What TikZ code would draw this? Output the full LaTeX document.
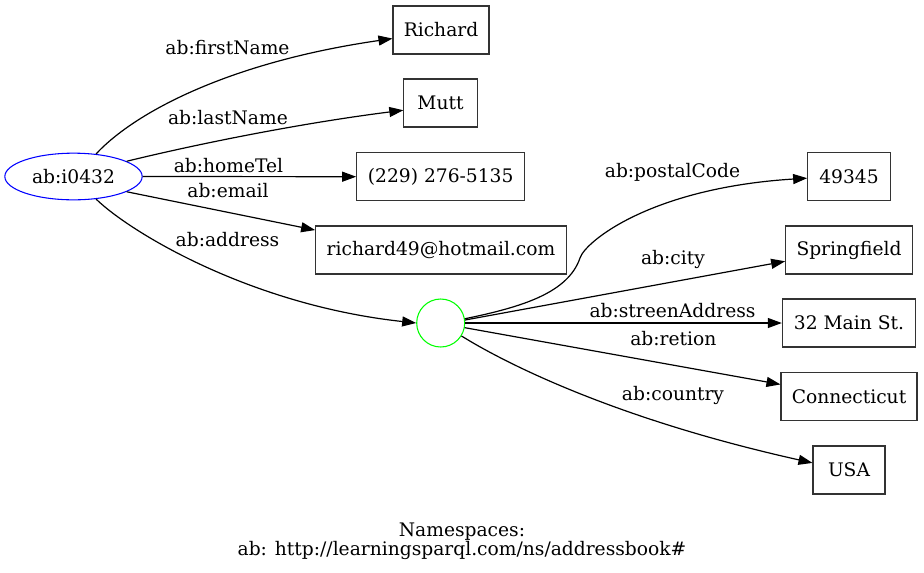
\documentclass[tikz,border=0pt]{standalone}
\usepackage{fontspec}
\setmainfont{DejaVu Serif}
\usetikzlibrary{arrows.meta,shapes.geometric}

\tikzstyle{line} = [draw, line width=0.9pt, -{Triangle[length=10.5pt,width=7.5pt]}]
\tikzstyle{lit} = [draw=black!80, rectangle, line width=0.8pt, minimum height=36pt, inner sep=0pt, font=\fontsize{14}{17}\selectfont]
\tikzstyle{subj} = [draw=blue, ellipse, line width=0.8pt, minimum width=103pt, minimum height=35pt, inner sep=0pt, font=\fontsize{14}{17}\selectfont]
\tikzstyle{bnode} = [draw=green, circle, line width=0.8pt, minimum size=36pt, inner sep=0pt]
\tikzstyle{lbl} = [anchor=base, inner sep=0pt, font=\fontsize{14}{17}\selectfont]

\begin{document}
\begin{tikzpicture}[x=0.75pt,y=-0.75pt]
\useasboundingbox (0,0) rectangle (924,572);

%resource
\node[subj] (i0432) at (73.5,176.5) {ab:i0432};

%literals
\node[lit, minimum width=72pt] (richard) at (441,30) {Richard};%
\node[lit, minimum width=55pt] (mutt) at (440.5,103) {Mutt};%
\node[lit, minimum width=126pt] (tel) at (440.7,176.7) {(229) 276-5135};%
\node[lit, minimum width=188pt] (email) at (441,250) {richard49@hotmail.com};%

%address
\node[bnode] (addr) at (440.7,323) {};
\node[lit, minimum width=62pt] (postal) at (849,176.7) {49345};%
\node[lit, minimum width=95pt] (city) at (849,250) {Springfield};%
\node[lit, minimum width=100pt] (street) at (849,323) {32 Main St.};%
\node[lit, minimum width=102pt] (region) at (849,396.5) {Connecticut};%
\node[lit, minimum width=54pt] (country) at (849,470) {USA};%

%edges
\path [line] (i0432.45) .. controls (135,112) and (230,62) .. (richard.190);
\path [line] (i0432.16) .. controls (210,141) and (310,122) .. (mutt.191);
\path [line] (i0432.east) -- (tel.west);
\path [line] (i0432.-16) -- (email.171);
\path [line] (i0432.-45) .. controls (130,232) and (250,305) .. (addr.west);

\path [line] (addr.10) .. controls (522,307) and (568,293) .. (580,258)
  .. controls (585,242) and (650,188) .. (postal.182);
\path [line] (addr.7) -- (city.190);
\path [line] (addr.east) -- (street.west);
\path [line] (addr.-11) -- (region.170);
\path [line] (addr.-32) .. controls (510,366) and (620,420) .. (country.169);

%edge labels
\node[lbl] (lfirst) at (227.5,54.3) {ab:firstName};%
\node[lbl] (llast) at (228,124.3) {ab:lastName};%
\node[lbl] (ltel) at (228.5,172.3) {ab:homeTel};%
\node[lbl] (lemail) at (228,197.3) {ab:email};%
\node[lbl] (laddr) at (227.5,246) {ab:address};%
\node[lbl] (lpostal) at (672.5,177.7) {ab:postalCode};%
\node[lbl] (lcity) at (673,264) {ab:city};%
\node[lbl] (lstreet) at (672.5,317.3) {ab:streenAddress};%
\node[lbl] (lregion) at (673.3,345.7) {ab:retion};%
\node[lbl] (lcountry) at (673,400) {ab:country};%

%namespaces
\node[align=center, inner sep=0pt, font=\fontsize{14}{14.5}\selectfont] (ns) at (462,541)
  {Namespaces:\\ab: http://learningsparql.com/ns/addressbook\#};
\end{tikzpicture}
\end{document}
